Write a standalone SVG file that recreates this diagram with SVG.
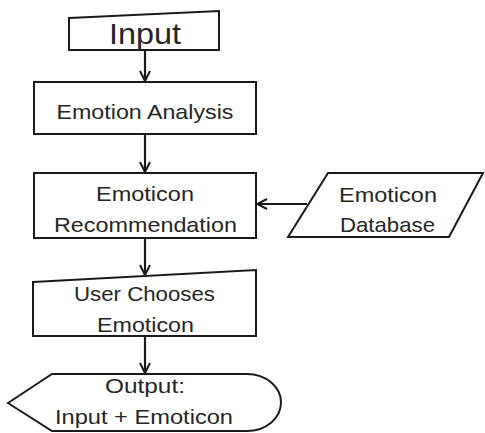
<svg xmlns="http://www.w3.org/2000/svg" width="485" height="433" viewBox="0 0 485 433">
<style>
.shape{fill:#fff;stroke:#1a1a1a;stroke-width:2;stroke-linejoin:miter}
.lbl{font-family:"Liberation Sans",Arial,sans-serif;font-size:21px;fill:#262626;text-anchor:middle}
.conn{stroke:#1a1a1a;stroke-width:2.2;fill:none}
</style>
<defs>
<marker id="ah" viewBox="0 0 12 12" refX="11" refY="6" markerWidth="12" markerHeight="12" markerUnits="userSpaceOnUse" orient="auto">
<path d="M1 1 L11 6 L1 11" fill="none" stroke="#1a1a1a" stroke-width="2"/>
</marker>
</defs>
<rect width="485" height="433" fill="#fff"/>
<g id="connectors">
<line class="conn" x1="145" y1="50" x2="145" y2="81" marker-end="url(#ah)"/>
<line class="conn" x1="145" y1="134" x2="145" y2="172" marker-end="url(#ah)"/>
<line class="conn" x1="307" y1="204" x2="257" y2="204" marker-end="url(#ah)"/>
<line class="conn" x1="145" y1="238" x2="145" y2="275" marker-end="url(#ah)"/>
<line class="conn" x1="145" y1="336" x2="145" y2="373" marker-end="url(#ah)"/>
</g>
<g id="input">
<polygon class="shape" points="69,18 219,11 219,50 69,50"/>
<text class="lbl" x="145" y="44" style="font-size:30px" textLength="72" lengthAdjust="spacingAndGlyphs">Input</text>
</g>
<g id="emotion-analysis">
<rect class="shape" x="34" y="82" width="222" height="52"/>
<text class="lbl" x="145" y="119" textLength="177" lengthAdjust="spacingAndGlyphs">Emotion Analysis</text>
</g>
<g id="emoticon-recommendation">
<rect class="shape" x="34" y="173" width="222" height="65"/>
<text class="lbl" x="145" y="201" textLength="98" lengthAdjust="spacingAndGlyphs">Emoticon</text>
<text class="lbl" x="145.5" y="232" textLength="183" lengthAdjust="spacingAndGlyphs">Recommendation</text>
</g>
<g id="emoticon-database">
<polygon class="shape" points="328,173 483,173 449,237 288,237"/>
<text class="lbl" x="388" y="202" textLength="98" lengthAdjust="spacingAndGlyphs">Emoticon</text>
<text class="lbl" x="387.5" y="232" textLength="95" lengthAdjust="spacingAndGlyphs">Database</text>
</g>
<g id="user-chooses">
<polygon class="shape" points="33,282 256,270 256,336 33,336"/>
<text class="lbl" x="144.5" y="301" textLength="141" lengthAdjust="spacingAndGlyphs">User Chooses</text>
<text class="lbl" x="145.5" y="332" textLength="97" lengthAdjust="spacingAndGlyphs">Emoticon</text>
</g>
<g id="output">
<path class="shape" d="M8 403 L52 374 L247 374 A34 28.5 0 0 1 247 431 L52 431 Z"/>
<text class="lbl" x="145" y="393" textLength="80" lengthAdjust="spacingAndGlyphs">Output:</text>
<text class="lbl" x="144" y="424" textLength="178" lengthAdjust="spacingAndGlyphs">Input + Emoticon</text>
</g>
</svg>
